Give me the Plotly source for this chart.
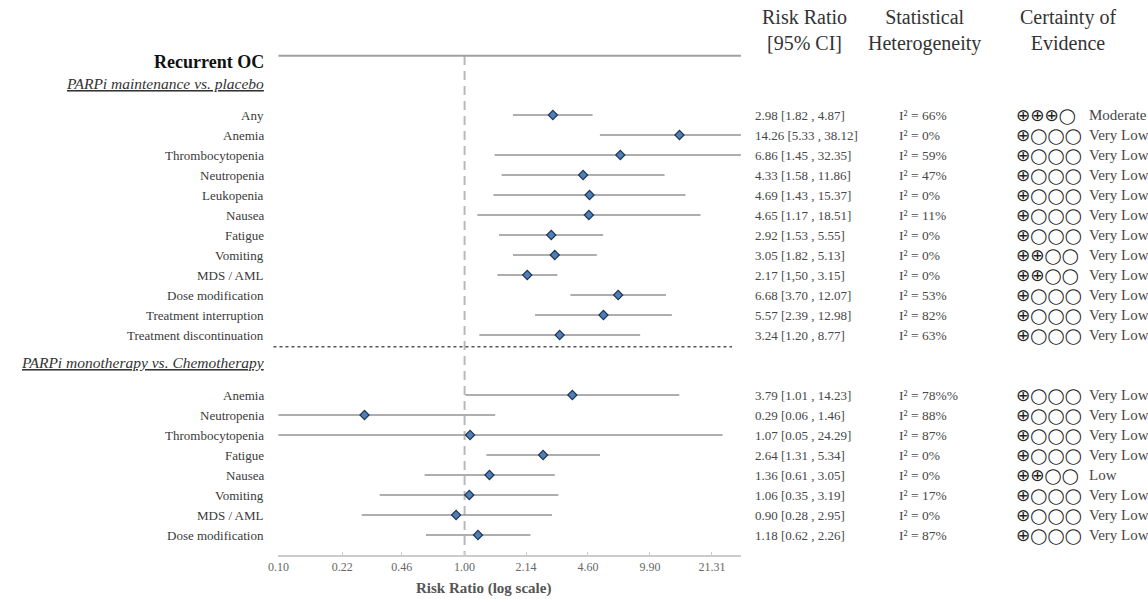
import math
import plotly.graph_objects as go

# ---- data -------------------------------------------------------------
maint_labels = ["Any", "Anemia", "Thrombocytopenia", "Neutropenia", "Leukopenia",
                "Nausea", "Fatigue", "Vomiting", "MDS / AML", "Dose modification",
                "Treatment interruption", "Treatment discontinuation"]
maint_rr = [2.98, 14.26, 6.86, 4.33, 4.69, 4.65, 2.92, 3.05, 2.17, 6.68, 5.57, 3.24]
maint_lo = [1.82, 5.33, 1.45, 1.58, 1.43, 1.17, 1.53, 1.82, 1.50, 3.70, 2.39, 1.20]
maint_hi = [4.87, 38.12, 32.35, 11.86, 15.37, 18.51, 5.55, 5.13, 3.15, 12.07, 12.98, 8.77]
maint_i2 = ["66%", "0%", "59%", "47%", "0%", "11%", "0%", "0%", "0%", "53%", "82%", "63%"]
maint_grade = [3, 1, 1, 1, 1, 1, 1, 2, 2, 1, 1, 1]
maint_grade_text = ["Moderate"] + ["Very Low"] * 11

mono_labels = ["Anemia", "Neutropenia", "Thrombocytopenia", "Fatigue", "Nausea",
               "Vomiting", "MDS / AML", "Dose modification"]
mono_rr = [3.79, 0.29, 1.07, 2.64, 1.36, 1.06, 0.90, 1.18]
mono_lo = [1.01, 0.06, 0.05, 1.31, 0.61, 0.35, 0.28, 0.62]
mono_hi = [14.23, 1.46, 24.29, 5.34, 3.05, 3.19, 2.95, 2.26]
mono_i2 = ["78%%", "88%", "87%", "0%", "0%", "17%", "0%", "87%"]
mono_grade = [1, 1, 1, 1, 2, 1, 1, 1]
mono_grade_text = ["Very Low", "Very Low", "Very Low", "Very Low", "Low",
                   "Very Low", "Very Low", "Very Low"]

tick_vals = [0.10, 0.22, 0.46, 1.00, 2.14, 4.60, 9.90, 21.31]
tick_text = ["0.10", "0.22", "0.46", "1.00", "2.14", "4.60", "9.90", "21.31"]

# ---- layout helpers ---------------------------------------------------
W, H = 1148, 599
SERIF = "Liberation Serif"
TXT = "#3a3a3a"
VAL = "#474747"
ROW_PX = 20          # vertical pitch of one table row
GAP_ROWS = 2         # empty rows between the two comparisons

# row slots: maintenance rows 0..11, monotherapy rows after the gap
maint_y = list(range(len(maint_labels)))
mono_y = [len(maint_labels) + GAP_ROWS + i for i in range(len(mono_labels))]

labels = maint_labels + mono_labels
rr = maint_rr + mono_rr
lo = maint_lo + mono_lo
hi = maint_hi + mono_hi
i2 = maint_i2 + mono_i2
grade = maint_grade + mono_grade
grade_text = maint_grade_text + mono_grade_text
ys = maint_y + mono_y


def px(x):
    return x / W


def grade_symbols(n):
    # GRADE certainty: ⊕ for each level met, ◯ for the rest
    plus = '<span style="font-size:17px">⊕</span>'
    return plus * n + "◯" * (4 - n)


fig = go.Figure()

# confidence intervals
ci_x, ci_y = [], []
for l, h, y in zip(lo, hi, ys):
    ci_x += [l, h, None]
    ci_y += [y, y, None]
fig.add_trace(go.Scatter(x=ci_x, y=ci_y, mode="lines",
                         line=dict(color="#939393", width=1.5),
                         hoverinfo="skip", showlegend=False))

# point estimates
fig.add_trace(go.Scatter(x=rr, y=ys, mode="markers",
                         marker=dict(symbol="diamond", size=7, color="#4f7fba",
                                     line=dict(color="#1e3552", width=1.2)),
                         text=labels, hovertemplate="%{text}: %{x:.2f}<extra></extra>",
                         showlegend=False))

ann = []
# row labels and table columns
for i, y in enumerate(ys):
    ann.append(dict(x=px(257), y=y, xref="paper", yref="y", xanchor="right",
                    text=labels[i], showarrow=False,
                    font=dict(family=SERIF, size=13, color=TXT)))
    lo_txt = f"{lo[i]:.2f}"
    if labels[i] == "MDS / AML" and y == maint_y[8]:
        lo_txt = lo_txt.replace(".", ",")  # printed with a decimal comma in the source table
    ann.append(dict(x=px(749), y=y, xref="paper", yref="y", xanchor="left",
                    text=f"{rr[i]:.2f} [{lo_txt} , {hi[i]:.2f}]", showarrow=False,
                    font=dict(family=SERIF, size=13, color=VAL)))
    ann.append(dict(x=px(895), y=y, xref="paper", yref="y", xanchor="left",
                    text=f"I² = {i2[i]}", showarrow=False,
                    font=dict(family=SERIF, size=13.5, color=VAL)))
    ann.append(dict(x=px(1086), y=y, xref="paper", yref="y", xanchor="left",
                    text=grade_text[i], showarrow=False,
                    font=dict(family=SERIF, size=15, color=VAL)))

# certainty symbols as one text block, one line per row slot (line pitch = ROW_PX)
n_slots = ys[-1] + 1
sym_lines = [""] * n_slots
for g, y in zip(grade, ys):
    sym_lines[y] = grade_symbols(g)
ann.append(dict(x=px(1013), y=(n_slots - 1) / 2, xref="paper", yref="y",
                xanchor="left", yanchor="middle", align="left",
                text="<br>".join(sym_lines), showarrow=False,
                font=dict(family="DejaVu Sans", size=ROW_PX / 1.3, color="#222222")))

# section headings
ann.append(dict(x=px(257), y=-2.65, xref="paper", yref="y", xanchor="right",
                text="<b>Recurrent OC</b>", showarrow=False,
                font=dict(family=SERIF, size=18, color="#111111")))
ann.append(dict(x=px(257), y=-1.6, xref="paper", yref="y", xanchor="right",
                text="<i><u>PARPi maintenance vs. placebo</u></i>", showarrow=False,
                font=dict(family=SERIF, size=15.5, color="#333333")))
ann.append(dict(x=px(257), y=12.35, xref="paper", yref="y", xanchor="right",
                text="<i><u>PARPi monotherapy vs. Chemotherapy</u></i>", showarrow=False,
                font=dict(family=SERIF, size=15.5, color="#333333")))

# column headers
for cx, txt in [(801, "Risk Ratio<br>[95% CI]"),
                (922, "Statistical<br>Heterogeneity"),
                (1067, "Certainty of<br>Evidence")]:
    ann.append(dict(x=px(cx), y=-4.25, xref="paper", yref="y", xanchor="center",
                    yanchor="middle", align="center", text=txt, showarrow=False,
                    font=dict(family=SERIF, size=20, color="#333333")))

# axis title
ann.append(dict(x=px(477), y=(H - 588) / H, xref="paper", yref="paper",
                xanchor="center", yanchor="middle",
                text="<b>Risk Ratio (log scale)</b>", showarrow=False,
                font=dict(family=SERIF, size=15, color="#555555")))

shapes = [
    # line of no effect
    dict(type="line", xref="x", yref="y", x0=1, x1=1, y0=-2.95, y1=22,
         line=dict(color="#b8b8b8", width=2, dash="9px,6px"), layer="below"),
    # heading rule
    dict(type="line", xref="x domain", yref="y", x0=0, x1=1, y0=-2.965, y1=-2.965,
         line=dict(color="#a0a0a0", width=2)),
    # section separator
    dict(type="line", xref="paper", yref="y", x0=px(265), x1=px(728), y0=11.585, y1=11.585,
         line=dict(color="#555555", width=1.5, dash="dot")),
]

fig.update_layout(
    width=W, height=H,
    margin=dict(l=0, r=0, t=0, b=0),
    paper_bgcolor="white", plot_bgcolor="white",
    annotations=ann, shapes=shapes,
    xaxis=dict(type="log", domain=[px(270), px(737)],
               range=[-1, math.log10(30.5)],
               tickvals=tick_vals, ticktext=tick_text,
               showgrid=False, zeroline=False,
               showline=True, linecolor="#cccccc", linewidth=1.5,
               ticks="inside", ticklen=3, tickcolor="#cccccc",
               tickfont=dict(family=SERIF, size=12, color="#666666")),
    yaxis=dict(domain=[44 / H, 1], range=[22, -5.75], visible=False,
               showgrid=False, zeroline=False),
    showlegend=False,
)

fig.write_html("out.html")
